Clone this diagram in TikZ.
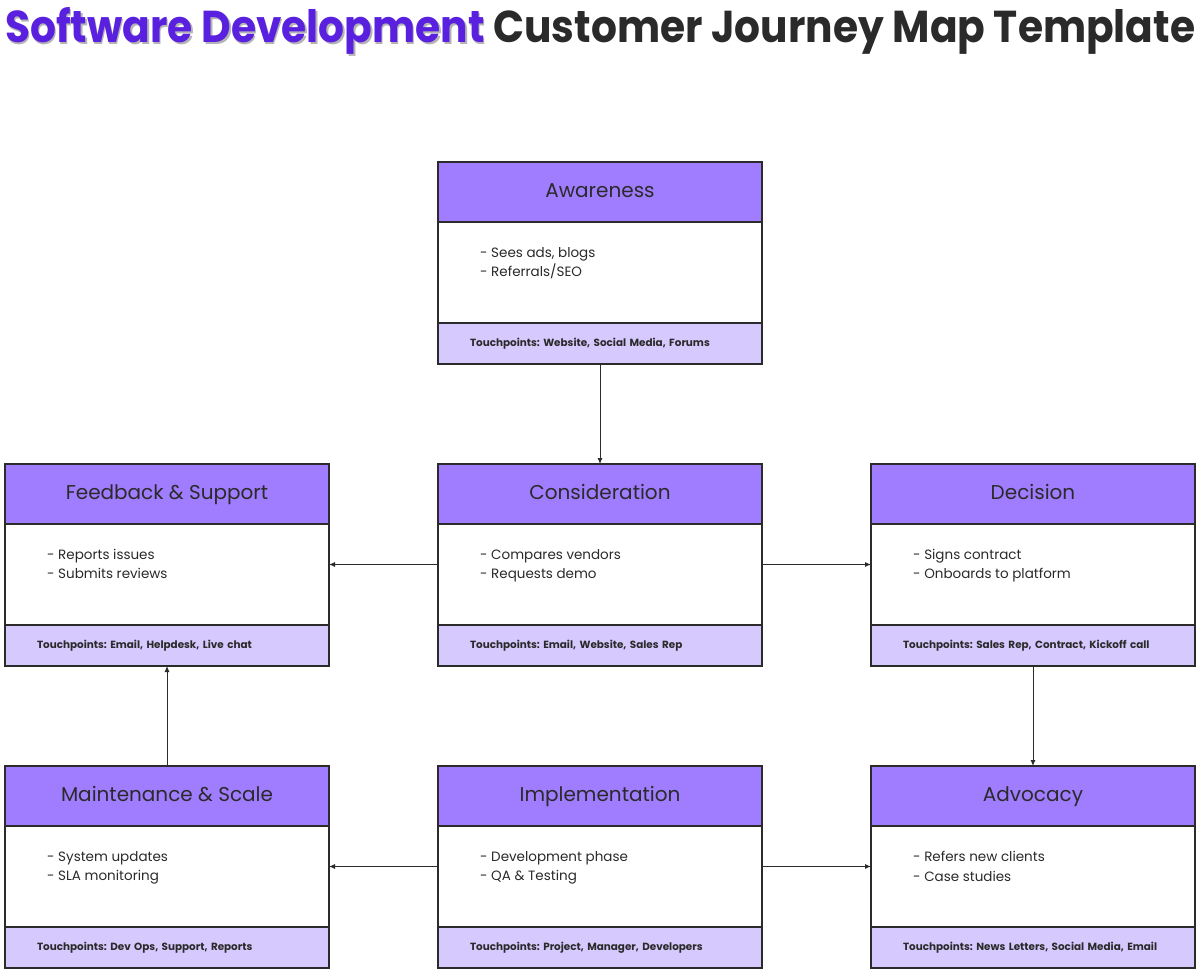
\documentclass[tikz,border=0pt]{standalone}
\usepackage{fontspec}
\setmainfont{Poppins}
\usetikzlibrary{arrows.meta}
\definecolor{hdr}{HTML}{A07CFE}
\definecolor{ftr}{HTML}{D6C9FE}
\definecolor{edge}{HTML}{2B2B2B}
\definecolor{ink}{HTML}{2A2A2A}
\definecolor{ttlpurple}{HTML}{5A20E0}
\definecolor{ttlshadow}{HTML}{B4B4B4}
\frenchspacing
\newcommand\ttltext[2]{\resizebox{1190pt}{35pt}{\bfseries{\color{#1}Software Development} {\color{#2}Customer Journey Map Template}}}
\newcommand\card[7]{%
  \node[hdrbox, anchor=north west] (#1-h) at (#2,#3) {#4};
  \node[bodybox, anchor=north] (#1-b) at (#1-h.south) {};
  \node[ftbox, anchor=north] (#1-f) at (#1-b.south) {#7};
  \node[bodytxt, anchor=north west] (#1-t) at ([xshift=42pt,yshift=-25pt]#1-b.north west) {- #5\\- #6};
}
\begin{document}
\begin{tikzpicture}[x=1pt,y=-1pt,
  cardbase/.style={draw=edge, line width=1.6pt, inner ysep=0pt, outer sep=0pt, minimum width=324pt, text=ink},
  hdrbox/.style={cardbase, fill=hdr, minimum height=60pt, text height=15pt, text depth=4pt, font=\fontsize{20}{24}\selectfont},
  bodybox/.style={cardbase, fill=white, minimum height=101pt},
  ftbox/.style={cardbase, fill=ftr, minimum height=41pt, text width=260pt, inner xsep=32pt, align=left, font=\fontsize{10.4}{12}\selectfont\bfseries},
  bodytxt/.style={inner sep=0pt, align=left, text=ink, font=\fontsize{13.5}{19.5}\selectfont},
  conn/.style={draw=edge, line width=0.9pt, -{Latex[length=6pt,width=5pt]}}
]
\useasboundingbox (0,0) rectangle (1200,971);
\node[anchor=base west, inner sep=0pt] (ttlshadow) at (6.5,44.5) {\ttltext{ttlshadow}{white!0}};
\node[anchor=base west, inner sep=0pt] (ttl) at (5,43) {\ttltext{ttlpurple}{ink}};

\card{aw}{438}{162}{Awareness}{Sees ads, blogs}{Referrals/SEO}{Touchpoints: Website, Social Media, Forums}
\card{fb}{5}{464}{Feedback \& Support}{Reports issues}{Submits reviews}{Touchpoints: Email, Helpdesk, Live chat}
\card{co}{438}{464}{Consideration}{Compares vendors}{Requests demo}{Touchpoints: Email, Website, Sales Rep}
\card{de}{871}{464}{Decision}{Signs contract}{Onboards to platform}{Touchpoints: Sales Rep, Contract, Kickoff call}
\card{ma}{5}{766}{Maintenance \& Scale}{System updates}{SLA monitoring}{Touchpoints: Dev Ops, Support, Reports}
\card{im}{438}{766}{Implementation}{Development phase}{QA \& Testing}{Touchpoints: Project, Manager, Developers}
\card{ad}{871}{766}{Advocacy}{Refers new clients}{Case studies}{Touchpoints: News Letters, Social Media, Email}

\draw[conn] (aw-f.south) -- (co-h.north);
\draw[conn] ([yshift=10pt]co-b.west) -- ([yshift=10pt]fb-b.east);
\draw[conn] ([yshift=10pt]co-b.east) -- ([yshift=10pt]de-b.west);
\draw[conn] (de-f.south) -- (ad-h.north);
\draw[conn] (ma-h.north) -- (fb-f.south);
\draw[conn] ([yshift=10pt]im-b.west) -- ([yshift=10pt]ma-b.east);
\draw[conn] ([yshift=10pt]im-b.east) -- ([yshift=10pt]ad-b.west);
\end{tikzpicture}
\end{document}
